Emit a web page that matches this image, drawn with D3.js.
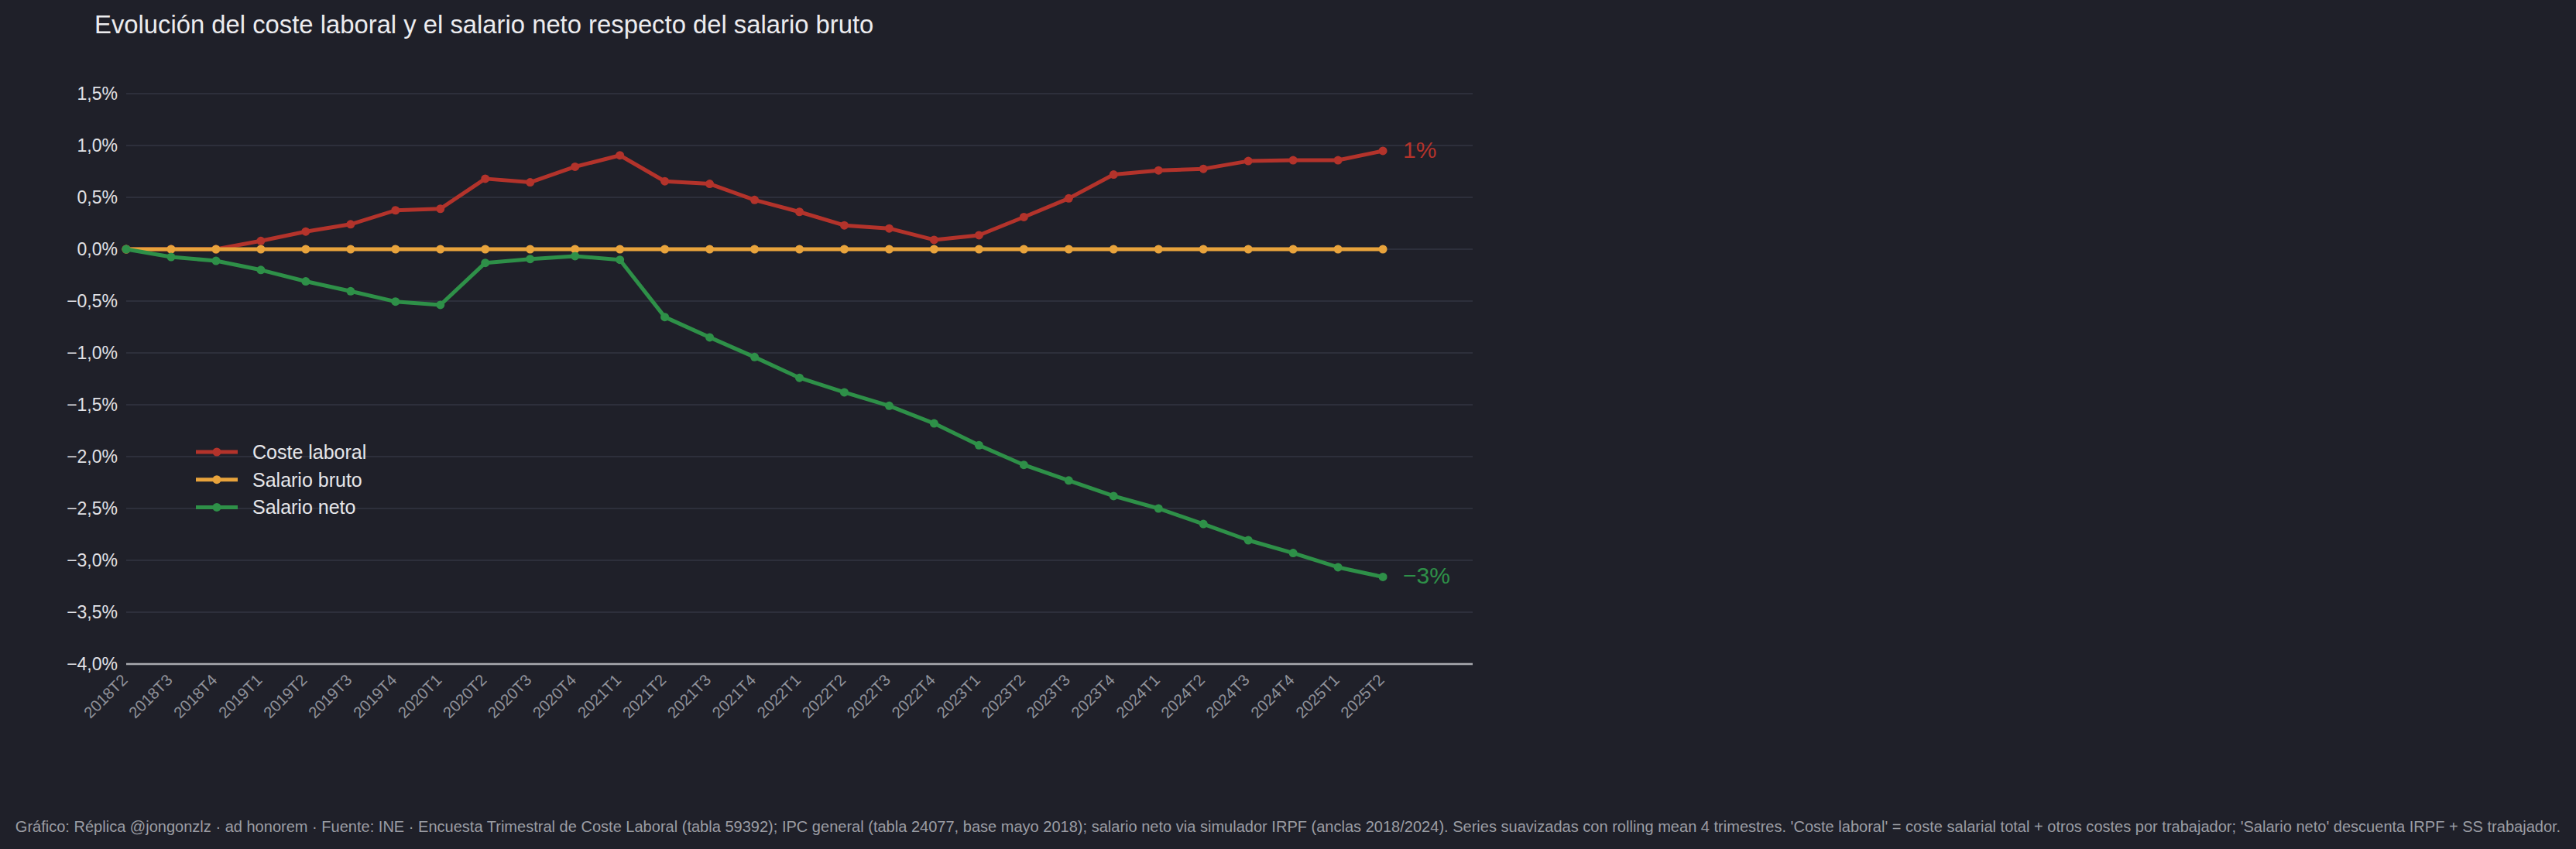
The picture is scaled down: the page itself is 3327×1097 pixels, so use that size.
<!DOCTYPE html>
<meta charset="utf-8">
<script src="https://d3js.org/d3.v7.min.js"></script>
<style>
html, body { margin: 0; padding: 0; background: #1f2029; }
* { font-family: "Liberation Sans", Helvetica, Arial, sans-serif; }
</style>
<div id="chart"></div>
<script>
// quarters on the x axis
const quarters = ["2018T2","2018T3","2018T4",
  "2019T1","2019T2","2019T3","2019T4",
  "2020T1","2020T2","2020T3","2020T4",
  "2021T1","2021T2","2021T3","2021T4",
  "2022T1","2022T2","2022T3","2022T4",
  "2023T1","2023T2","2023T3","2023T4",
  "2024T1","2024T2","2024T3","2024T4",
  "2025T1","2025T2"];

// % vs salario bruto
const costeLaboral = [0, 0, 0, 0.08, 0.17, 0.24, 0.375, 0.39, 0.68, 0.645, 0.795,
  0.905, 0.655, 0.63, 0.475, 0.36, 0.23, 0.2, 0.09, 0.135, 0.31, 0.49, 0.72,
  0.76, 0.775, 0.85, 0.858, 0.858, 0.948];
const salarioBruto = quarters.map(() => 0);
const salarioNeto = [0, -0.075, -0.112, -0.2, -0.31, -0.405, -0.505, -0.537, -0.132,
  -0.095, -0.067, -0.102, -0.654, -0.85, -1.04, -1.24, -1.38, -1.51, -1.68,
  -1.89, -2.08, -2.23, -2.38, -2.5, -2.65, -2.806, -2.93, -3.067, -3.16];

const seriesNames = ["Coste laboral", "Salario bruto", "Salario neto"];
const seriesColors = ["#b3332b", "#e8a33c", "#2e9048"];
const yTicks = [-4, -3.5, -3, -2.5, -2, -1.5, -1, -0.5, 0, 0.5, 1, 1.5];

const W = 3327, H = 1097;
const margin = {top: 121, right: 1425, bottom: 239, left: 163};

const svg = d3.select("#chart").append("svg")
  .attr("width", W).attr("height", H);

svg.append("rect").attr("width", W).attr("height", H).attr("fill", "#1f2029");

const x = d3.scaleLinear().domain([0, 30]).range([margin.left, W - margin.right]);
const y = d3.scaleLinear().domain([-4, 1.5]).range([H - margin.bottom, margin.top]);

// grid
svg.append("g")
  .selectAll("line")
  .data(yTicks.filter(d => d > -4))
  .join("line")
    .attr("x1", x(0)).attr("x2", x(30))
    .attr("y1", d => y(d)).attr("y2", d => y(d))
    .attr("stroke", "#2d2f3b")
    .attr("stroke-width", 2);

// y labels
const fmt = d => (d < 0 ? "\u2212" : "") + d3.format(".1f")(Math.abs(d)).replace(".", ",") + "%";
svg.append("g")
  .selectAll("text")
  .data(yTicks)
  .join("text")
    .attr("x", x(0) - 11)
    .attr("y", d => y(d))
    .attr("dy", "0.36em")
    .attr("text-anchor", "end")
    .attr("fill", "#e2e2e6")
    .style("font-size", "23px")
    .text(fmt);

// x axis line
svg.append("line")
  .attr("x1", x(0)).attr("x2", x(30))
  .attr("y1", y(-4)).attr("y2", y(-4))
  .attr("stroke", "#a9aab0")
  .attr("stroke-width", 2.5);

// x labels
svg.append("g")
  .selectAll("text")
  .data(quarters)
  .join("text")
    .attr("transform", (d, i) => `translate(${x(i) + 3},${y(-4) + 22}) rotate(-45)`)
    .attr("text-anchor", "end")
    .attr("fill", "#8f9199")
    .style("font-size", "20.5px")
    .text(d => d);

// series
const data = [costeLaboral, salarioBruto, salarioNeto].map((vals, k) => ({
  name: seriesNames[k],
  color: seriesColors[k],
  values: vals
}));

const line = d3.line()
  .x((d, i) => x(i))
  .y(d => y(d));

const groups = svg.append("g")
  .selectAll("g")
  .data(data)
  .join("g");

groups.append("path")
  .attr("d", d => line(d.values))
  .attr("fill", "none")
  .attr("stroke", d => d.color)
  .attr("stroke-width", 5)
  .attr("stroke-linejoin", "round");

groups.selectAll("circle")
  .data(d => d.values.map((v, i) => ({v, i, color: d.color})))
  .join("circle")
    .attr("cx", d => x(d.i))
    .attr("cy", d => y(d.v))
    .attr("r", 5.5)
    .attr("fill", d => d.color);

// end labels (skip the flat reference line)
const endFmt = v => (v < 0 ? "\u2212" : "") + Math.abs(Math.round(v)) + "%";
svg.append("g")
  .selectAll("text")
  .data([data[0], data[2]])
  .join("text")
    .attr("x", d => x(d.values.length - 1) + 26)
    .attr("y", d => y(d.values[d.values.length - 1]))
    .attr("dy", "0.3em")
    .attr("fill", d => d.color)
    .style("font-size", "30px")
    .text(d => endFmt(d.values[d.values.length - 1]));

// legend
const legend = svg.append("g")
  .selectAll("g")
  .data(data)
  .join("g")
    .attr("transform", (d, i) => `translate(253,${584 + i * 35.7})`);
legend.append("line")
  .attr("x1", 0).attr("x2", 54)
  .attr("stroke", d => d.color)
  .attr("stroke-width", 5);
legend.append("circle")
  .attr("cx", 27).attr("r", 5.5)
  .attr("fill", d => d.color);
legend.append("text")
  .attr("x", 73)
  .attr("dy", "0.36em")
  .attr("fill", "#e6e6ea")
  .style("font-size", "25px")
  .text(d => d.name);

// title
svg.append("text")
  .attr("x", 122)
  .attr("y", 43)
  .attr("fill", "#ececef")
  .style("font-size", "32.8px")
  .text("Evolución del coste laboral y el salario neto respecto del salario bruto");

// footer
svg.append("text")
  .attr("x", W / 2)
  .attr("y", 1075)
  .attr("text-anchor", "middle")
  .attr("fill", "#9b9da4")
  .style("font-size", "20.05px")
  .text("Gráfico: Réplica @jongonzlz · ad honorem  ·  Fuente: INE · Encuesta Trimestral de Coste Laboral (tabla 59392); IPC general (tabla 24077, base mayo 2018); salario neto via simulador IRPF (anclas 2018/2024). Series suavizadas con rolling mean 4 trimestres. 'Coste laboral' = coste salarial total + otros costes por trabajador; 'Salario neto' descuenta IRPF + SS trabajador.");
</script>
